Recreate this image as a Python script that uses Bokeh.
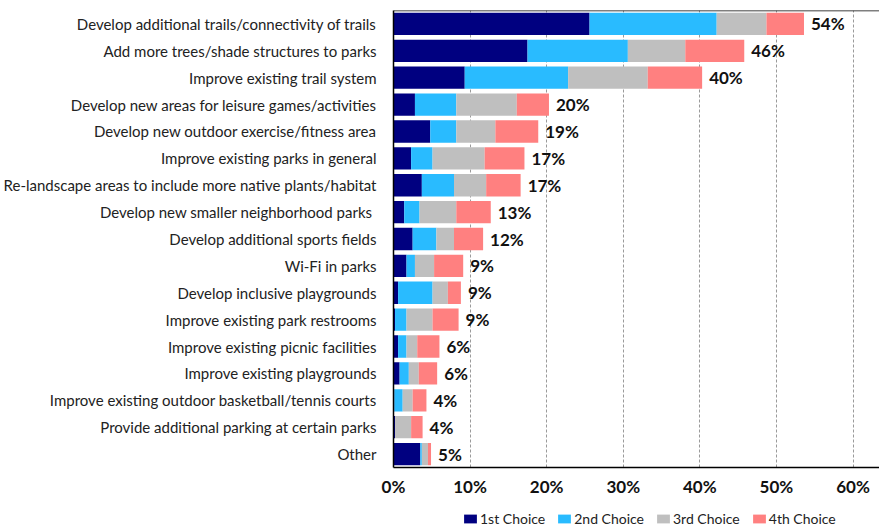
from bokeh.plotting import figure
from bokeh.layouts import column
from bokeh.models import (ColumnDataSource, FixedTicker, PrintfTickFormatter, Span,
                          FactorRange, Range1d, Legend, LegendItem)
from bokeh.core.properties import value
from bokeh.embed import file_html
from bokeh.resources import INLINE

categories = [
    "Develop additional trails/connectivity of trails",
    "Add more trees/shade structures to parks",
    "Improve existing trail system",
    "Develop new areas for leisure games/activities",
    "Develop new outdoor exercise/fitness area",
    "Improve existing parks in general",
    "Re-landscape areas to include more native plants/habitat",
    "Develop new smaller neighborhood parks ",
    "Develop additional sports fields",
    "Wi-Fi in parks",
    "Develop inclusive playgrounds",
    "Improve existing park restrooms",
    "Improve existing picnic facilities",
    "Improve existing playgrounds",
    "Improve existing outdoor basketball/tennis courts",
    "Provide additional parking at certain parks",
    "Other",
]
first_choice = [25.6, 17.5, 9.3, 2.8, 4.8, 2.3, 3.7, 1.4, 2.5, 1.7, 0.6, 0.2, 0.6, 0.8, 0.1, 0.2, 3.5]
second_choice = [16.6, 13.1, 13.5, 5.4, 3.4, 2.8, 4.2, 2.0, 3.1, 1.1, 4.5, 1.5, 1.1, 1.2, 1.1, 0.0, 0.2]
third_choice = [6.5, 7.5, 10.4, 7.9, 5.1, 6.8, 4.2, 4.8, 2.3, 2.5, 2.0, 3.4, 1.4, 1.3, 1.3, 2.1, 0.8]
fourth_choice = [4.9, 7.7, 7.1, 4.2, 5.6, 5.2, 4.5, 4.5, 3.8, 3.8, 1.7, 3.4, 2.9, 2.4, 1.8, 1.5, 0.4]
total_labels = ["54%", "46%", "40%", "20%", "19%", "17%", "17%", "13%", "12%",
                "9%", "9%", "9%", "6%", "6%", "4%", "4%", "5%"]
choice_names = ["1st Choice", "2nd Choice", "3rd Choice", "4th Choice"]
x_ticks = [0, 10, 20, 30, 40, 50, 60]

colors = ["#000080", "#29BBFF", "#BFBFBF", "#FF8080"]
keys = ["c1", "c2", "c3", "c4"]

totals = [a + b + c + d for a, b, c, d in zip(first_choice, second_choice, third_choice, fourth_choice)]
source = ColumnDataSource(dict(cat=categories, c1=first_choice, c2=second_choice,
                               c3=third_choice, c4=fourth_choice, total=totals, lab=total_labels))

p = figure(width=879, height=499, output_backend="svg", toolbar_location=None,
           y_range=FactorRange(factors=categories[::-1]), x_range=Range1d(0, 63.46),
           min_border_left=391, min_border_right=0, min_border_top=10, min_border_bottom=30)

renderers = p.hbar_stack(keys, y="cat", height=0.83, fill_color=colors, line_color=None,
                         source=source)

p.text(x="total", y="cat", text="lab", source=source, x_offset=7,
       text_font=value("Lato"), text_font_style="bold", text_font_size="17px",
       text_baseline="middle", text_align="left", text_color="#111111")

p.add_layout(Span(location=len(categories), dimension="width", line_color="black", line_width=1.5))

p.outline_line_color = None
p.ygrid.grid_line_color = None
p.xgrid.grid_line_color = "#9a9a9a"
p.xgrid.grid_line_dash = "3 2"
p.xgrid.ticker = FixedTicker(ticks=x_ticks)

p.xaxis.ticker = FixedTicker(ticks=x_ticks)
p.xaxis.formatter = PrintfTickFormatter(format="%d%%")
p.xaxis.major_label_text_font = "Lato"
p.xaxis.major_label_text_font_style = "bold"
p.xaxis.major_label_text_font_size = "17px"
p.xaxis.major_label_text_color = "#111111"
p.xaxis.major_tick_line_color = None
p.xaxis.minor_tick_line_color = None
p.xaxis.axis_line_color = "black"
p.xaxis.axis_line_width = 1.5
p.xaxis.major_label_standoff = 2

p.yaxis.major_label_text_font = "Lato"
p.yaxis.major_label_text_font_size = "15px"
p.yaxis.major_label_text_color = "#222222"
p.yaxis.major_tick_line_color = None
p.yaxis.minor_tick_line_color = None
p.yaxis.axis_line_color = "black"
p.yaxis.axis_line_width = 1.5
p.yaxis.major_label_standoff = 11

# legend strip below the chart (its stacked bars sit outside the strip's visible range)
p2 = figure(width=879, height=28, output_backend="svg", toolbar_location=None,
            x_axis_location=None, y_axis_location=None, min_border=0,
            x_range=Range1d(-2, -1), y_range=FactorRange(factors=categories[::-1]))
p2.outline_line_color = None
p2.grid.grid_line_color = None
legend_renderers = p2.hbar_stack(keys, y="cat", height=0.83, fill_color=colors,
                                 line_color=None, source=source)
items = [LegendItem(label=n, renderers=[r]) for n, r in zip(choice_names, legend_renderers)]
lg = Legend(items=items, orientation="horizontal", location=(69, 0),
            border_line_color=None, background_fill_alpha=0,
            padding=0, margin=0, spacing=11, label_standoff=2,
            glyph_width=16, glyph_height=11, label_height=14,
            label_text_font="Lato", label_text_font_size="14px", label_text_color="#222222")
p2.add_layout(lg)

layout = column(p, p2, spacing=0)
open("out.html", "w").write(file_html(layout, INLINE))
